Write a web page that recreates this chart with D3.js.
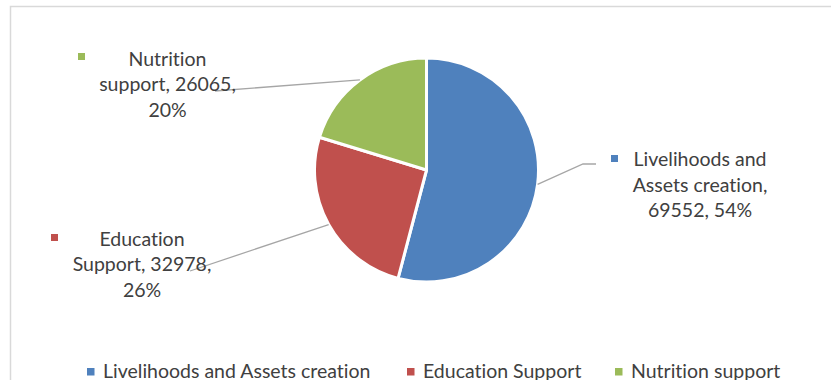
<!DOCTYPE html>
<html>
<head>
<meta charset="utf-8">
<script src="https://cdn.jsdelivr.net/npm/d3@7"></script>
<style>
  html, body { margin: 0; padding: 0; background: #fff; }
  svg { display: block; }
  text { font-family: Lato, "Open Sans", sans-serif; fill: #404040;
         font-variant-ligatures: none; font-feature-settings: "liga" 0, "clig" 0; }
</style>
</head>
<body>
<svg id="chart" width="831" height="380"></svg>
<script>
// Beneficiaries by component
const categories = ["Livelihoods and Assets creation", "Education Support", "Nutrition support"];
const values = [69552, 32978, 26065];
const percents = ["54%", "26%", "20%"];
const colors = ["#4F81BD", "#C0504D", "#9BBB59"];

// Data-label text, one array of lines per slice
const labelLines = [
  ["Livelihoods and", "Assets creation,", "69552, 54%"],
  ["Education", "Support, 32978,", "26%"],
  ["Nutrition", "support, 26065,", "20%"]
];

// Label layout: text-block centre x, first baseline y, leader end point, optional elbow
const labelLayout = [
  { cx: 700, y0: 166, end: [596, 164], elbow: [583, 164], key: [611, 155] },
  { cx: 142, y0: 245.5, end: [190, 271], elbow: null, key: [51, 234] },
  { cx: 167.5, y0: 65.5, end: [215, 91], elbow: null, key: [78, 53] }
];

const W = 831, H = 380;
const cx = 426.5, cy = 170, R = 112;
const lineH = 25.5;
const fontSize = 19.5;

const svg = d3.select("#chart");

// chart area frame
svg.append("rect")
  .attr("x", 10.5).attr("y", 6.5)
  .attr("width", 900).attr("height", 500)
  .attr("fill", "none")
  .attr("stroke", "#d9d9d9")
  .attr("stroke-width", 1.5);

const data = categories.map((c, i) => ({ name: c, value: values[i], i }));

const pie = d3.pie().value(d => d.value).sort(null);
const arcs = pie(data);
const arc = d3.arc().innerRadius(0).outerRadius(R);

const g = svg.append("g").attr("transform", `translate(${cx},${cy})`);

g.selectAll("path.slice")
  .data(arcs)
  .join("path")
  .attr("class", "slice")
  .attr("d", arc)
  .attr("fill", d => colors[d.data.i])
  .attr("stroke", "#fff")
  .attr("stroke-width", 3)
  .attr("stroke-linejoin", "round");

// leader lines from slice edge midpoint to label
const leaders = svg.append("g");
arcs.forEach(a => {
  const L = labelLayout[a.data.i];
  const mid = (a.startAngle + a.endAngle) / 2;
  const p0 = [cx + R * Math.sin(mid), cy - R * Math.cos(mid)];
  const pts = [p0];
  if (L.elbow) pts.push(L.elbow);
  pts.push(L.end);
  leaders.append("path")
    .attr("d", d3.line()(pts))
    .attr("fill", "none")
    .attr("stroke", "#a6a6a6")
    .attr("stroke-width", 1.3);
});

// data labels
const labels = svg.append("g");
arcs.forEach(a => {
  const i = a.data.i;
  const L = labelLayout[i];
  labels.append("rect")
    .attr("x", L.key[0]).attr("y", L.key[1])
    .attr("width", 7).attr("height", 7)
    .attr("fill", colors[i]);
  const t = labels.append("text")
    .attr("text-anchor", "middle")
    .attr("font-size", fontSize);
  labelLines[i].forEach((ln, k) => {
    t.append("tspan")
      .attr("x", L.cx)
      .attr("y", L.y0 + k * lineH)
      .text(ln);
  });
});

// legend along the bottom
const legendX = [87, 407, 615];
const legend = svg.append("g");
categories.forEach((c, i) => {
  legend.append("rect")
    .attr("x", legendX[i]).attr("y", 368)
    .attr("width", 7.5).attr("height", 7.5)
    .attr("fill", colors[i]);
  legend.append("text")
    .attr("x", legendX[i] + 16)
    .attr("y", 377.5)
    .attr("font-size", fontSize)
    .text(c);
});
</script>
</body>
</html>
